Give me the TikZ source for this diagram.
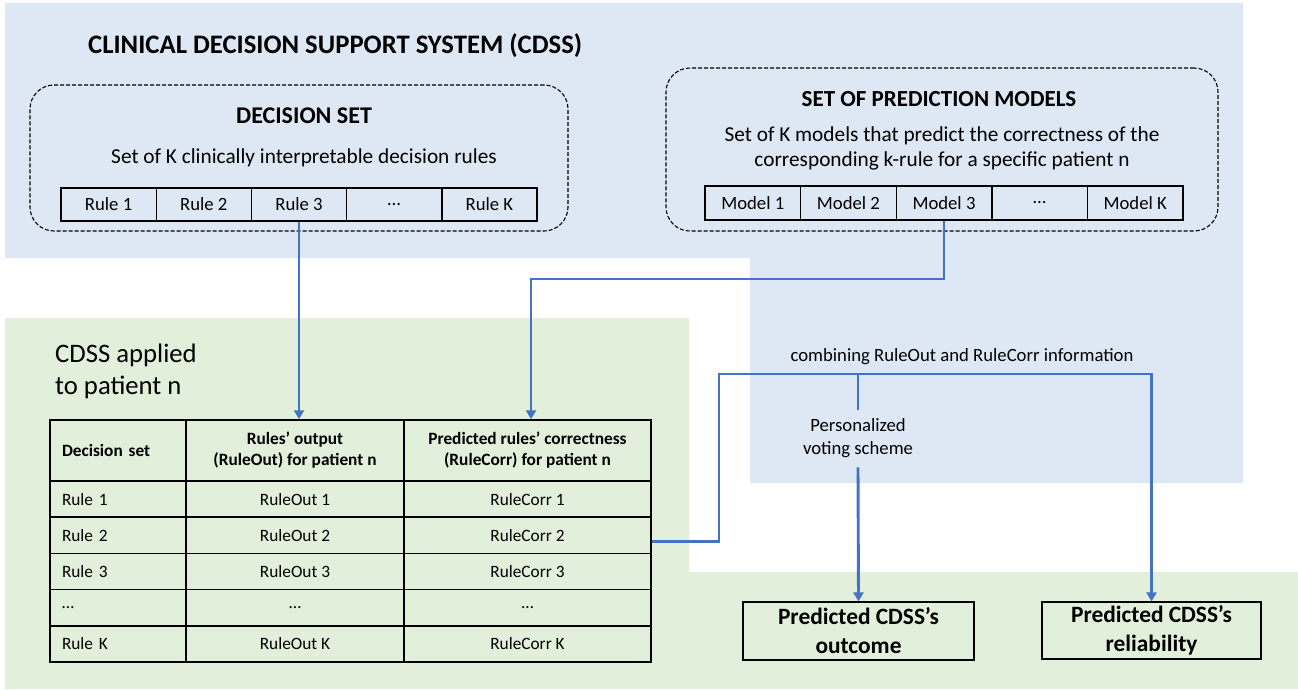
\documentclass[tikz,border=0pt]{standalone}
\usepackage{fontspec}
\setmainfont{Carlito}
\usetikzlibrary{arrows.meta}
\definecolor{bgblue}{HTML}{DEE8F5}
\definecolor{bggreen}{HTML}{E2EFDA}
\definecolor{linkblue}{HTML}{4472C4}

\begin{document}
\begin{tikzpicture}[x=1pt,y=-1pt,
    dashbox/.style={draw, dash pattern=on 4pt off 2pt, rounded corners=24pt, line width=1.1pt},
    cell/.style={draw, line width=1.4pt, inner sep=0pt, font=\fontsize{18.7}{22}\selectfont},
    tcell/.style={draw, line width=1.5pt, inner sep=0pt, font=\fontsize{17.3}{21}\selectfont},
    leftcell/.style={text width=112pt, inner xsep=12pt, align=left},
    link/.style={draw=linkblue, line width=2.9pt},
    arrowed/.style={-{Triangle[width=10pt,length=9pt]}},
    resultbox/.style={draw, line width=1.2pt, align=center, inner sep=0pt,
      font=\bfseries\fontsize{23.4}{29}\selectfont}]
  \useasboundingbox (0,0) rectangle (1298,689);

  % background areas
  \fill[bgblue] (5,3) -- (1243,3) -- (1243,483) -- (750,483) -- (750,258) -- (5,258) -- cycle;
  \fill[bggreen] (5,318) -- (689,318) -- (689,572) -- (1298,572) -- (1298,689) -- (5,689) -- cycle;

  \node[anchor=west, inner sep=0pt, font=\bfseries\fontsize{26.7}{32}\selectfont] (title) at (88,46)
    {CLINICAL DECISION SUPPORT SYSTEM (CDSS)};

  % decision set
  \node[dashbox, minimum width=538pt, minimum height=146pt] (decset) at (299,158) {};
  \node[font=\bfseries\fontsize{24}{29}\selectfont] (dectitle) at (304,116) {DECISION SET};
  \node[font=\fontsize{21.3}{26}\selectfont] (decdesc) at (304,158)
    {Set of K clinically interpretable decision rules};
  \foreach \t [count=\i] in {Rule 1, Rule 2, Rule 3, …, Rule K}
    \node[cell, minimum width=95.2pt, minimum height=33pt] (rule\i) at ({13.4+95.2*\i},204.5) {\t};

  % prediction models
  \node[dashbox, minimum width=552pt, minimum height=163pt] (predset) at (942,149.5) {};
  \node[font=\bfseries\fontsize{23}{28}\selectfont] (predtitle) at (939,99) {SET OF PREDICTION MODELS};
  \node[align=center, font=\fontsize{21.3}{25}\selectfont] (preddesc) at (942,148)
    {Set of K models that predict the correctness of the\\corresponding k-rule for a specific patient n};
  \foreach \t [count=\i] in {Model 1, Model 2, Model 3, …, Model K}
    \node[cell, minimum width=95.6pt, minimum height=34pt] (model\i) at ({657.2+95.6*\i},203) {\t};

  % CDSS applied to patient n
  \node[anchor=west, align=left, inner sep=0pt, font=\fontsize{26.7}{32}\selectfont] (applied) at (55,371)
    {CDSS applied\\to patient n};
  \node[tcell, leftcell, minimum height=61pt, font=\bfseries\fontsize{17.3}{21}\selectfont] (hdrA) at (118,450.5)
    {Decision set};
  \node[tcell, align=center, minimum width=218pt, minimum height=61pt, font=\bfseries\fontsize{17.3}{21}\selectfont] (hdrB) at (295,450.5)
    {Rules’ output\\(RuleOut) for patient n};
  \node[tcell, align=center, minimum width=247pt, minimum height=61pt, font=\bfseries\fontsize{17.3}{21}\selectfont] (hdrC) at (527.5,450.5)
    {Predicted rules’ correctness\\(RuleCorr) for patient n};
  \foreach \a/\b/\c [count=\r] in {Rule 1/RuleOut 1/RuleCorr 1, Rule 2/RuleOut 2/RuleCorr 2,
      Rule 3/RuleOut 3/RuleCorr 3, …/…/…, Rule K/RuleOut K/RuleCorr K} {
    \node[tcell, leftcell, minimum height=36.2pt] (dec\r) at (118,{462.9+36.2*\r}) {\a};
    \node[tcell, minimum width=218pt, minimum height=36.2pt] (out\r) at (295,{462.9+36.2*\r}) {\b};
    \node[tcell, minimum width=247pt, minimum height=36.2pt] (corr\r) at (527.5,{462.9+36.2*\r}) {\c};
  }

  % voting and results
  \node[font=\fontsize{18.7}{23}\selectfont] (combine) at (962,357)
    {combining RuleOut and RuleCorr information};
  \node[align=center, inner sep=9pt, font=\fontsize{18.7}{23}\selectfont] (voting) at (858,438.5)
    {Personalized\\voting scheme};
  \node[resultbox, minimum width=231pt, minimum height=58pt] (outcome) at (858.5,631)
    {Predicted CDSS’s\\outcome};
  \node[resultbox, minimum width=219pt, minimum height=57pt] (reliab) at (1151.5,630.5)
    {Predicted CDSS’s\\reliability};
  \coordinate (fork) at (858,374);

  \draw[link, arrowed] (rule3.south) -- (rule3.south |- hdrB.north);
  \draw[link, arrowed] (model3.south) |- (531,279) -- (531,279 |- hdrC.north);
  \draw[link] ([yshift=-6pt]corr2.east) -| (719,374) -- (fork);
  \draw[link, arrowed] (fork) -| (reliab.north);
  \draw[link] (fork) -- (voting.north);
  \draw[link, arrowed] (voting.south) -- (outcome.north);
\end{tikzpicture}
\end{document}
